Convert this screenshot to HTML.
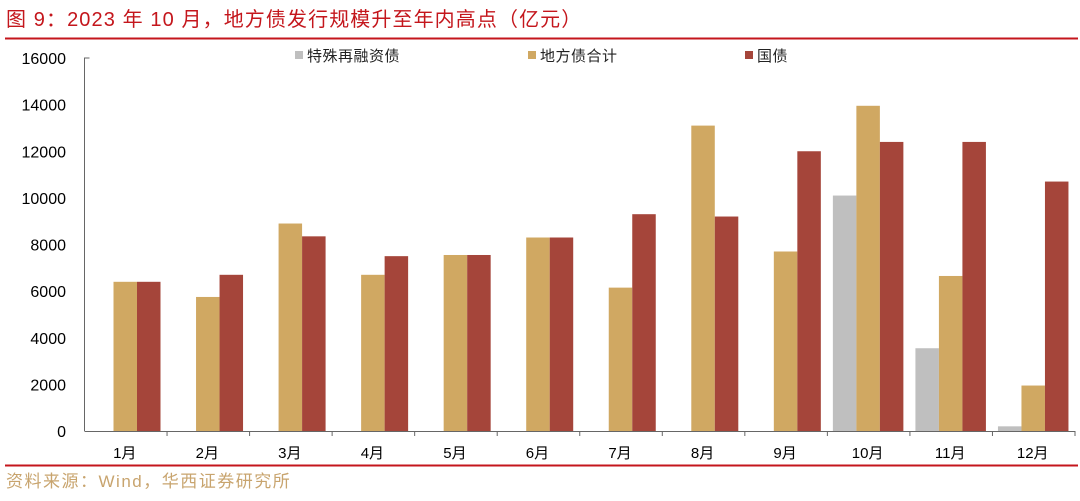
<!DOCTYPE html>
<html><head><meta charset="utf-8"><style>
body{margin:0;background:#fff;width:1080px;height:496px;overflow:hidden;font-family:"Liberation Sans","Noto Sans CJK SC",sans-serif}
</style></head><body>
<svg width="1080" height="496" font-family="Liberation Sans, Noto Sans CJK SC, sans-serif">
<text x="6" y="26" font-size="20" letter-spacing="1.1" fill="#c4161c">图 9：2023 年 10 月，地方债发行规模升至年内高点（亿元）</text>
<line x1="5" y1="38.5" x2="1078" y2="38.5" stroke="#c4161c" stroke-width="2"/>
<line x1="5" y1="465.5" x2="1078" y2="465.5" stroke="#c4161c" stroke-width="2"/>
<text x="6" y="487" font-size="17" letter-spacing="1.5" fill="#c8a46e">资料来源：Wind，华西证券研究所</text>
<g id="legend">
<rect x="295" y="51" width="8" height="8" fill="#bfbfbf"/>
<text x="307" y="61" font-size="15" letter-spacing="0.5" fill="#222">特殊再融资债</text>
<rect x="528" y="51" width="8" height="8" fill="#d0a862"/>
<text x="540" y="61" font-size="15" letter-spacing="0.5" fill="#222">地方债合计</text>
<rect x="745" y="51" width="8" height="8" fill="#a5453a"/>
<text x="757" y="61" font-size="15" letter-spacing="0.5" fill="#222">国债</text>
</g>
<g id="plot"></g>
</svg>
<script>
const categories=["1月","2月","3月","4月","5月","6月","7月","8月","9月","10月","11月","12月"];
const special=[0,0,0,0,0,0,0,0,0,10100,3550,200];
const local=[6400,5750,8900,6700,7550,8300,6150,13100,7700,13950,6650,1950];
const gov=[6400,6700,8350,7500,7550,8300,9300,9200,12000,12400,12400,10700];
const yTicks=[0,2000,4000,6000,8000,10000,12000,14000,16000];
const NS="http://www.w3.org/2000/svg";
const g=document.getElementById('plot');
const x0=84.5,x1=1075,yTop=58,yBot=431,yMax=16000;
const bandW=(x1-x0)/categories.length;
const y=v=>yBot-(v/yMax)*(yBot-yTop);
const bx=(i,s)=>x0+i*bandW+5.5+s*23.5;
function mk(t,a){const e=document.createElementNS(NS,t);for(const k in a)e.setAttribute(k,a[k]);g.appendChild(e);return e;}
yTicks.forEach(v=>{
 const t=mk('text',{x:66,y:y(v)+6,'font-size':16,'text-anchor':'end',fill:'#000'});
 t.textContent=v;
 
 
});
const series=[[special,'#bfbfbf','special'],[local,'#d0a862','local'],[gov,'#a5453a','gov']];
categories.forEach((c,i)=>{
 series.forEach(([arr,col,nm],s)=>{
  if(arr[i]<=0)return;
  const r=mk('rect',{x:bx(i,s),y:y(arr[i]),width:23.5,height:yBot-y(arr[i]),fill:col});
  
  
 });
 const t=mk('text',{x:x0+(i+0.5)*bandW-1,y:458,'font-size':15,'text-anchor':'middle',fill:'#000'});
 t.textContent=c;
 
 
 const tk=mk('line',{x1:x0+(i+1)*bandW,x2:x0+(i+1)*bandW,y1:yBot,y2:yBot+5,stroke:'#666'});
 
 
});
const ya=mk('path',{d:`M${x0+5},${yTop} H${x0} V${yBot}`,fill:'none',stroke:'#666'});


const xa=mk('line',{x1:x0,x2:x1,y1:yBot+0.5,y2:yBot+0.5,stroke:'#666'});


</script>
</body></html>
